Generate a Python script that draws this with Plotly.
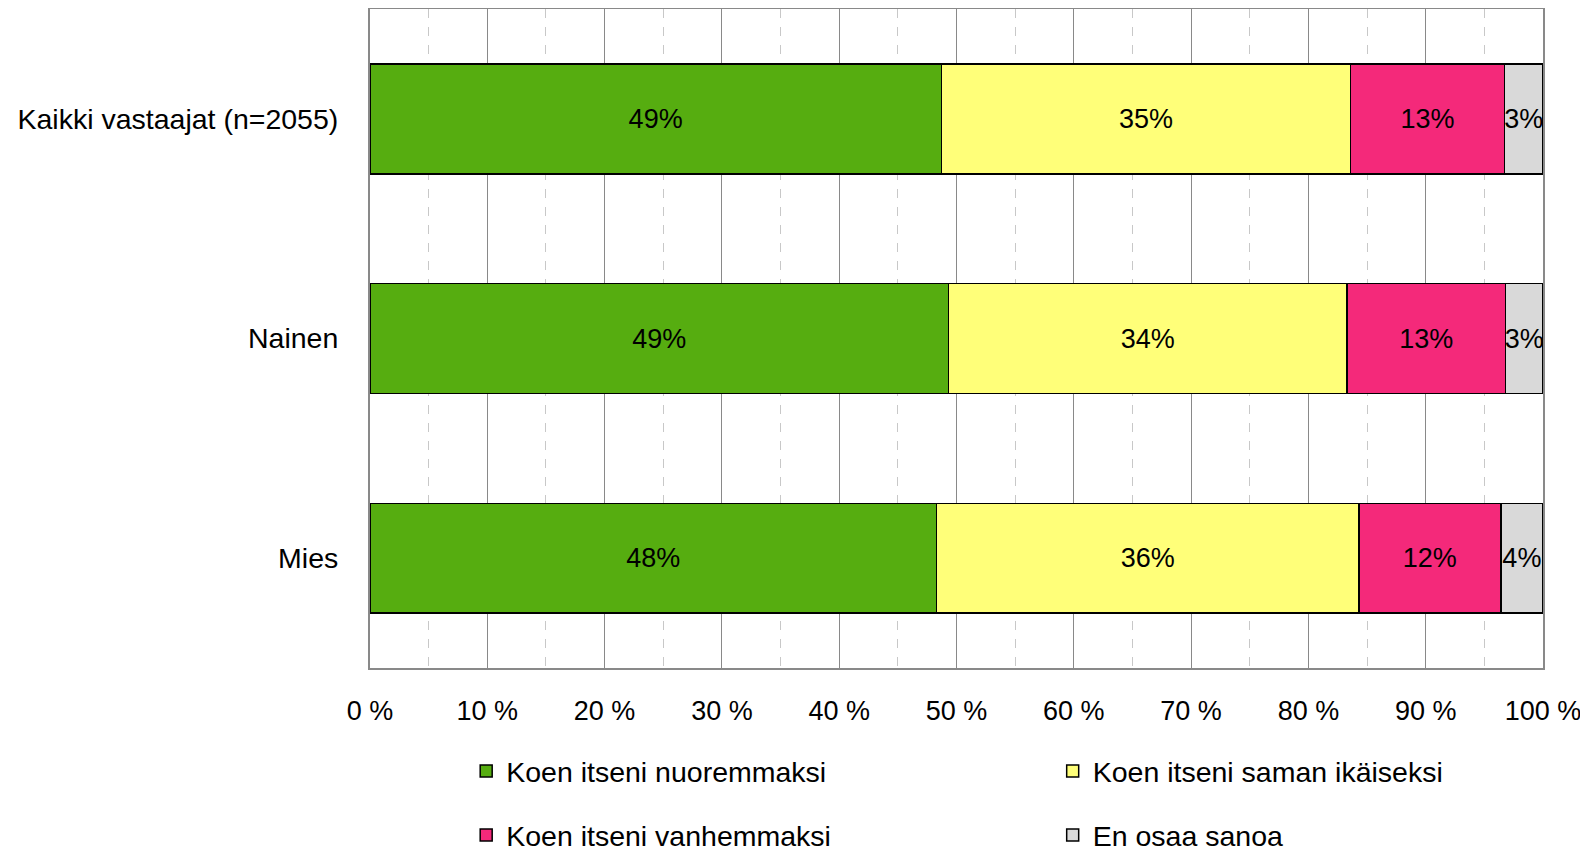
import plotly.graph_objects as go

# Data
categories = ['Kaikki vastaajat (n=2055)', 'Nainen', 'Mies']
series_names = ['Koen itseni nuoremmaksi', 'Koen itseni saman ikäiseksi',
                'Koen itseni vanhemmaksi', 'En osaa sanoa']
nuoremmaksi = [48.7, 49.3, 48.3]
saman_ikaiseksi = [34.9, 34.0, 36.0]
vanhemmaksi = [13.1, 13.5, 12.1]
en_osaa = [3.3, 3.2, 3.6]
labels_nuoremmaksi = ['49%', '49%', '48%']
labels_saman = ['35%', '34%', '36%']
labels_vanhemmaksi = ['13%', '13%', '12%']
labels_en_osaa = ['3%', '3%', '4%']
x_ticks = [0, 10, 20, 30, 40, 50, 60, 70, 80, 90, 100]
x_tick_text = ['0 %', '10 %', '20 %', '30 %', '40 %', '50 %', '60 %', '70 %', '80 %', '90 %', '100 %']

colors = ['#56AD10', '#FFFF79', '#F4297A', '#D9D9D9']
FONT = 'Liberation Sans'
FS = 27

fig = go.Figure()

series = [nuoremmaksi, saman_ikaiseksi, vanhemmaksi, en_osaa]
labels = [labels_nuoremmaksi, labels_saman, labels_vanhemmaksi, labels_en_osaa]
legend_ids = ['legend', 'legend2', 'legend3', 'legend4']

for vals, labs, name, col, leg in zip(series, labels, series_names, colors, legend_ids):
    fig.add_trace(go.Bar(
        y=categories,
        x=vals,
        orientation='h',
        name=name,
        marker=dict(color=col, line=dict(color='black', width=1.5)),
        text=labs,
        textposition='inside',
        insidetextanchor='middle',
        textangle=0,
        constraintext='none',
        textfont=dict(family=FONT, size=FS, color='black'),
        legend=leg,
        showlegend=True,
    ))

# legend placement (two columns, two rows below the plot)
leg_pos = {'legend': (0.082, -0.157), 'legend2': (0.582, -0.157),
           'legend3': (0.082, -0.254), 'legend4': (0.582, -0.254)}
for leg, (lx, ly) in leg_pos.items():
    fig.update_layout({leg: dict(orientation='h', x=lx, xanchor='left', y=ly, yanchor='middle',
                                 font=dict(family=FONT, size=28.5, color='black'),
                                 bgcolor='rgba(0,0,0,0)', visible=True)})

# page body has an 8px margin, so the figure is a bit smaller than the window
fig.update_layout(
    showlegend=True,
    barmode='stack',
    bargap=0.5,
    width=1580,
    height=843,
    margin=dict(l=362, r=45, t=1, b=183, autoexpand=False),
    plot_bgcolor='white',
    paper_bgcolor='white',
    font=dict(family=FONT, size=FS, color='black'),
)

fig.update_xaxes(
    range=[0, 100],
    tickvals=x_ticks,
    ticktext=x_tick_text,
    showgrid=True, gridcolor='#898989', gridwidth=1.3,
    minor=dict(tickvals=[5, 15, 25, 35, 45, 55, 65, 75, 85, 95], showgrid=True,
               griddash='dash', gridcolor='#C8C8C8', gridwidth=1.3),
    showline=True, linecolor='#898989', linewidth=2, mirror=True,
    zeroline=False,
    ticklabelstandoff=18,
    tickfont=dict(family=FONT, size=FS, color='black'),
)

fig.update_yaxes(
    categoryorder='array', categoryarray=categories,
    autorange='reversed',
    showgrid=False,
    showline=True, linecolor='#898989', linewidth=2, mirror=True,
    ticklabelstandoff=24,
    tickfont=dict(family=FONT, size=28.5, color='black'),
)

fig.write_html("out.html")
